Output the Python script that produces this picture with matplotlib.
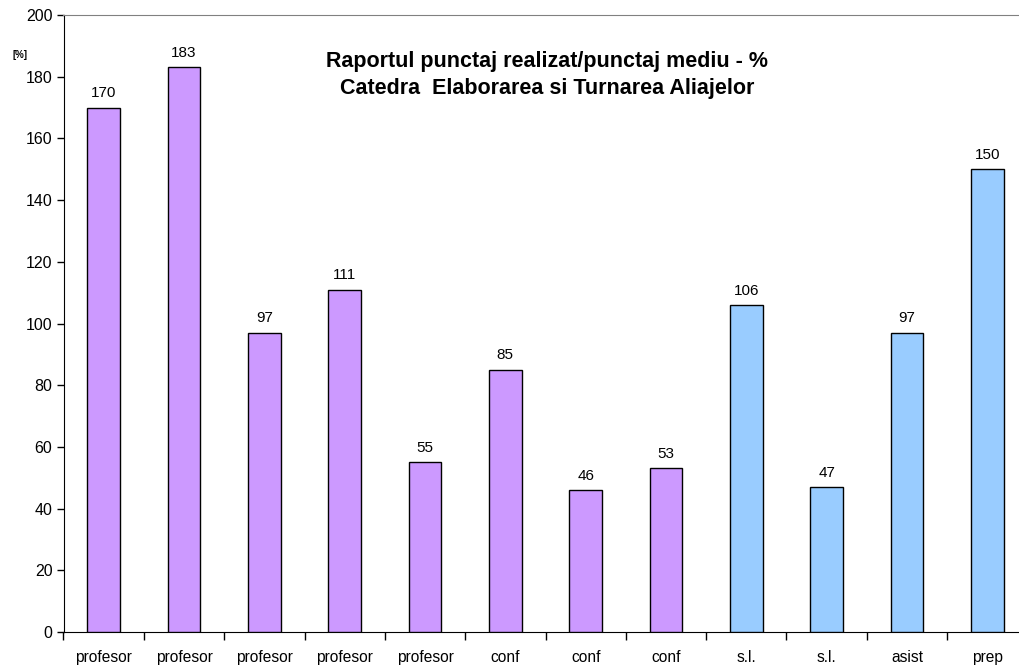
import numpy as np
import matplotlib.pyplot as plt

plt.rcParams['font.family'] = ['Liberation Sans', 'DejaVu Sans']

categories = ['profesor', 'profesor', 'profesor', 'profesor', 'profesor',
              'conf', 'conf', 'conf', 's.l.', 's.l.', 'asist', 'prep']
values = [170, 183, 97, 111, 55, 85, 46, 53, 106, 47, 97, 150]
is_teacher = [True] * 8 + [False] * 4

purple = '#CC99FF'
blue = '#99CCFF'

fig = plt.figure(figsize=(10.19, 6.67), dpi=100)
ax = fig.add_axes([63.5 / 1019, 35 / 667, 964 / 1019, 617 / 667])

x = np.arange(len(values))
colors = [purple if t else blue for t in is_teacher]
bars = ax.bar(x, values, width=0.41, color=colors, edgecolor='black', linewidth=1.0, zorder=3)

for xi, v in zip(x, values):
    ax.annotate(f'{v:.0f}', (xi, v), xytext=(0, 7.5), textcoords='offset points',
                ha='center', va='baseline', fontsize=11)

ax.set_xlim(-0.5, len(values) - 0.5)
ax.set_ylim(0, 200)
ax.set_yticks(np.arange(0, 201, 20))
ax.tick_params(axis='y', labelsize=11.5, length=5, width=1, direction='out', pad=3)

# category labels centered, tick marks on the boundaries
ax.set_xticks(x)
ax.set_xticklabels(categories, fontsize=11.2)
ax.tick_params(axis='x', which='major', length=0, pad=13)
ax.set_xticks(np.arange(-0.5, len(values)), minor=True)
ax.tick_params(axis='x', which='minor', length=6, width=1, direction='out')

ax.spines['right'].set_visible(False)
ax.spines['top'].set_color('#808080')
ax.spines['left'].set_color('black')
ax.spines['bottom'].set_color('black')

fig.text(547 / 1019, 1 - 67 / 667, 'Raportul punctaj realizat/punctaj mediu - %',
         ha='center', va='baseline', fontsize=15.5, fontweight='bold')
fig.text(547 / 1019, 1 - 94 / 667, 'Catedra  Elaborarea si Turnarea Aliajelor',
         ha='center', va='baseline', fontsize=15.5, fontweight='bold')
fig.text(20 / 1019, 1 - 55 / 667, '[%]', ha='center', va='center', fontsize=7, fontweight='bold')

fig.savefig('out.png', dpi=100)
